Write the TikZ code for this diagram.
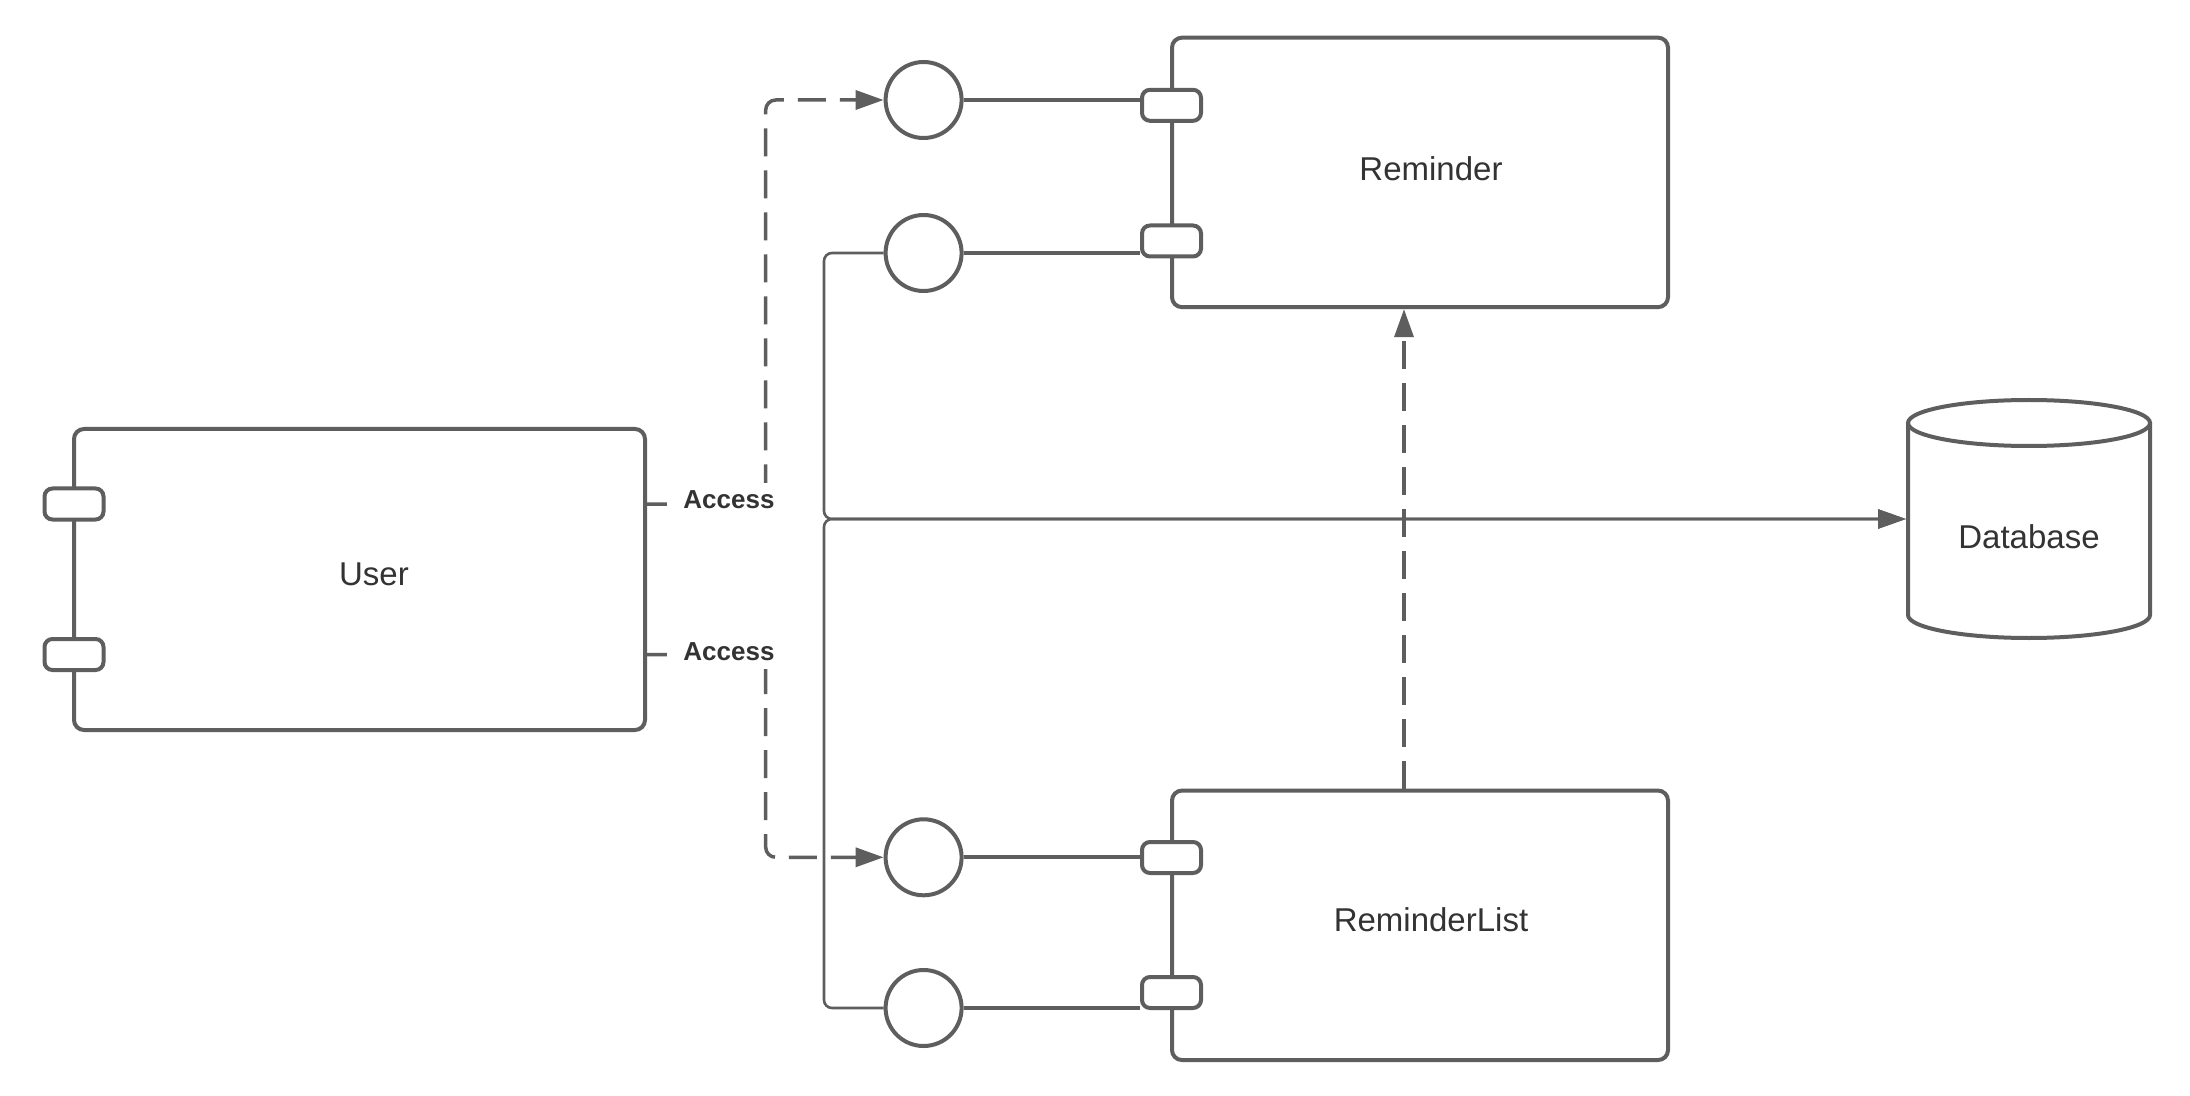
\documentclass[tikz,border=0pt]{standalone}
\usepackage{fontspec}
\setmainfont{Liberation Sans}
\usetikzlibrary{arrows.meta,calc}

\definecolor{edge}{HTML}{5E5E5E}
\definecolor{ink}{HTML}{333333}

\begin{document}
\begin{tikzpicture}[x=0.5pt,y=-0.5pt,
  comp/.style={draw=edge,line width=2pt,rounded corners=5pt,fill=white,inner sep=0pt},
  port/.style={draw=edge,line width=2pt,rounded corners=4pt,fill=white,inner sep=0pt,
               minimum width=29.5pt,minimum height=15.5pt},
  iface/.style={circle,draw=edge,line width=2pt,fill=white,inner sep=0pt,minimum size=38pt},
  title/.style={text=ink,font=\fontsize{16.5}{20}\selectfont,inner sep=0pt},
  tag/.style={text=ink,font=\bfseries\fontsize{13}{16}\selectfont,fill=white,
              inner xsep=8pt,inner ysep=4pt},
  wire/.style={draw=edge,line width=2pt},
  dep/.style={draw=edge,line width=1.75pt,dash pattern=on 14pt off 7pt,rounded corners=5pt,
              -{Triangle[length=14pt,width=9.5pt]}},
  flow/.style={draw=edge,line width=1.3pt,rounded corners=4pt,
               -{Triangle[length=14pt,width=9.5pt]}},
]
% canvas
\fill[white] (0,0) rectangle (2190,1096);
\useasboundingbox (0,0) rectangle (2190,1096);

% components
\node[comp,minimum width=285.5pt,minimum height=150.5pt] (user) at (359.5,579.5) {};
\node[comp,minimum width=248pt,minimum height=134.75pt] (rem) at (1420,172.4) {};
\node[comp,minimum width=248pt,minimum height=134.75pt] (rlist) at (1420,925.3) {};

\node[title] (userlbl) at (374,574) {User};
\node[title] (remlbl) at (1431,169) {Reminder};
\node[title] (rlistlbl) at (1431,920) {ReminderList};

% ports
\node[port] (up1) at (74,504) {};
\node[port] (up2) at (74,654.5) {};
\node[port] (rp1) at (1171.5,105.3) {};
\node[port] (rp2) at (1171.5,241) {};
\node[port] (lp1) at (1171.5,857.5) {};
\node[port] (lp2) at (1171.5,992.5) {};

% provided interfaces
\node[iface] (if1) at (923.6,100) {};
\node[iface] (if2) at (923.6,253) {};
\node[iface] (if3) at (923.6,857.3) {};
\node[iface] (if4) at (923.6,1008) {};

\draw[wire] (if1.east) -- (if1.east -| rp1.west);
\draw[wire] (if2.east) -- (if2.east -| rp2.west);
\draw[wire] (if3.east) -- (if3.east -| lp1.west);
\draw[wire] (if4.east) -- (if4.east -| lp2.west);

% database cylinder
\node[draw=none,inner sep=0pt,outer sep=1pt,minimum width=121pt,minimum height=120pt] (db) at (2029,519) {};
\draw[edge,line width=2pt,fill=white]
  ($(db.center)+(-121,-96)$) -- ($(db.center)+(-121,96)$)
  arc[start angle=180,end angle=360,x radius=60.5pt,y radius=11.5pt]
  -- ($(db.center)+(121,-96)$);
\draw[edge,line width=2pt] ($(db.center)+(0,-96)$) ellipse[x radius=60.5pt,y radius=11.5pt];
\node[title] (dblbl) at (2029,536.5) {Database};

% routing lanes
\coordinate (lane) at (765.7,0);
\coordinate (bus) at (824,519);

% usage dependencies from the user
\draw[dep] (up1 -| user.east) -| (lane |- if1) -- (if1.west);
\draw[dep] (up2 -| user.east) -| (lane |- if3) -- (if3.west);
\node[tag] (acc1) at (729,500) {Access};
\node[tag] (acc2) at (729,652) {Access};

% data flow to the database
\draw[flow] (if2.west) -| (bus) -- (db.west);
\draw[flow] (if4.west) -| (bus) -- (db.west);

% ReminderList depends on Reminder
\draw[dep] ($(rlist.north)+(-16,0)$) -- ($(rem.south)+(-16,0)$);
\end{tikzpicture}
\end{document}
